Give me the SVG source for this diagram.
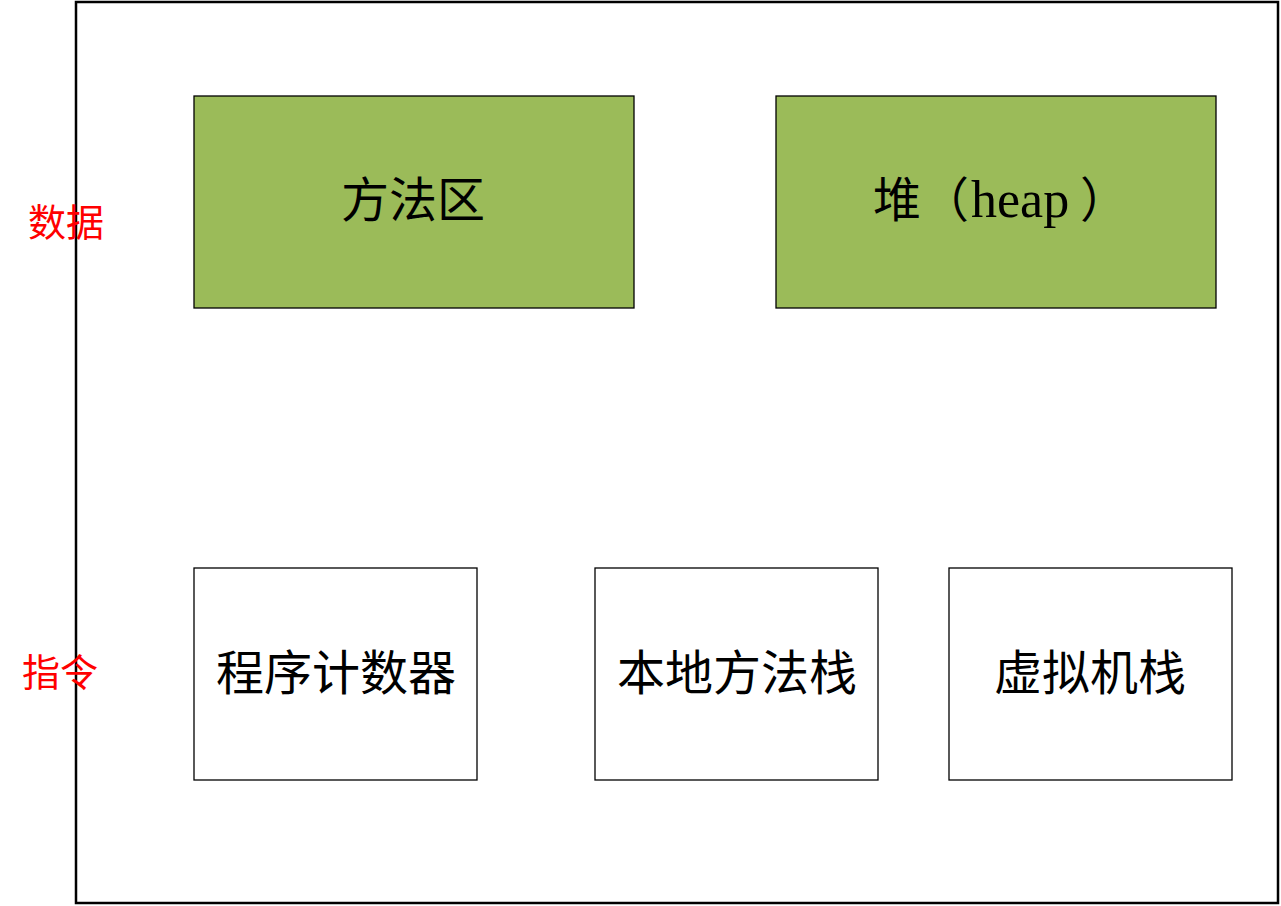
<svg xmlns="http://www.w3.org/2000/svg" width="1281" height="906" viewBox="0 0 1281 906">
<style>
.frame{fill:#fff;stroke:#000;stroke-width:2.5}
.box{stroke:#000;stroke-width:1.3}
.green{fill:#9BBB59}
.white{fill:#fff}
.t{font-family:"Liberation Serif","Noto Sans CJK SC",serif;font-size:48px;fill:#000;text-anchor:middle}
.lbl{font-family:"Noto Sans CJK SC",sans-serif;font-size:38px;fill:#ff0000}
</style>
<rect width="1281" height="906" fill="#fff"/>
<g id="frame"><rect class="frame" x="76" y="2" width="1202" height="901"/></g>
<g id="label-data"><text class="lbl" x="28" y="236">数据</text></g>
<g id="label-instr"><text class="lbl" x="22" y="686">指令</text></g>
<g id="method-area"><rect class="box green" x="194" y="96" width="440" height="212"/><text class="t" x="413" y="217">方法区</text></g>
<g id="heap"><rect class="box green" x="776" y="96" width="440" height="212"/><text class="t" y="217" style="text-anchor:start"><tspan x="873">堆（</tspan><tspan x="971" style="font-size:52px">heap</tspan><tspan x="1080">）</tspan></text></g>
<g id="pc"><rect class="box white" x="194" y="568" width="283" height="212"/><text class="t" x="336" y="690">程序计数器</text></g>
<g id="native-stack"><rect class="box white" x="595" y="568" width="283" height="212"/><text class="t" x="737" y="690">本地方法栈</text></g>
<g id="vm-stack"><rect class="box white" x="949" y="568" width="283" height="212"/><text class="t" x="1090" y="690">虚拟机栈</text></g>
<g id="connectors"></g>
</svg>
